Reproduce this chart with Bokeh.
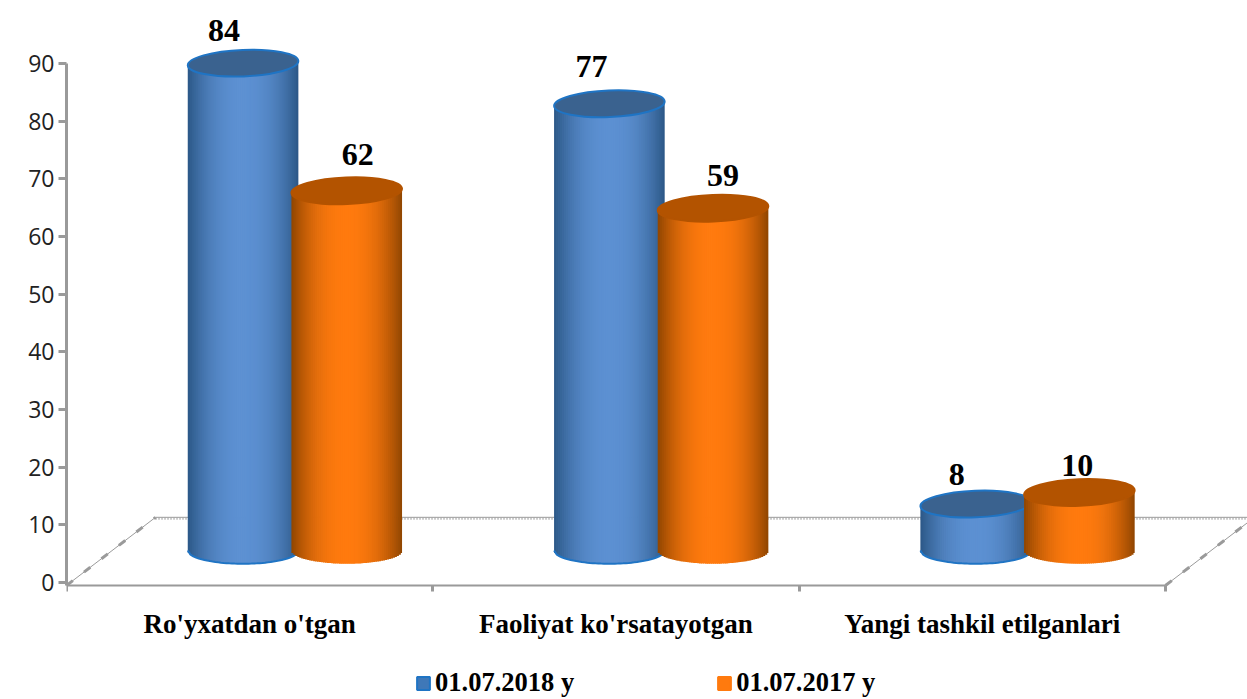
import math
from bokeh.plotting import figure
from bokeh.models import Range1d, LinearAxis, FixedTicker, Legend, LegendItem
from bokeh.core.properties import value
from bokeh.embed import file_html
from bokeh.resources import INLINE

categories = ["Ro'yxatdan o'tgan", "Faoliyat ko'rsatayotgan", "Yangi tashkil etilganlari"]
series_names = ["01.07.2018 y", "01.07.2017 y"]
values_2018 = [84, 77, 8]
values_2017 = [62, 59, 10]
y_ticks = [0, 10, 20, 30, 40, 50, 60, 70, 80, 90]

# styling of the pseudo-3D look
AXIS_Y = -0.52    # the x axis lies just under zero
FLOOR = 5.55      # y lift of the cylinders' base centre above axis zero
PERSPECTIVE = 1.006  # cylinders stand slightly nearer than the y axis
BACK = 11.3       # y height of the floor's back edge
DEPTH = 0.243     # x shift of the floor's back edge
BAR_W = 0.302
ELL_H = 4.6
OFFS = [0.482, 0.765]
STRIPS = 56
GRAY = "#9a9a9a"
EDGE = ["#2b5786", "#8f4500"]
MID = ["#5c90d2", "#ff7a0e"]
CAP = ["#3a628f", "#b35300"]
RIM = ["#1f74c4", "#b35300"]
LABEL_DX = [[-19, -18, -19], [11, 10, -2]]
LABEL_DY = [[33, 37, 30], [36, 33, 27]]


def mix(a, b, t):
    ca = [int(a[i:i + 2], 16) for i in (1, 3, 5)]
    cb = [int(b[i:i + 2], 16) for i in (1, 3, 5)]
    return "#%02x%02x%02x" % tuple(round(x + (y - x) * t) for x, y in zip(ca, cb))


p = figure(width=1247, height=699, output_backend="svg", toolbar_location=None,
           x_range=Range1d(0, 3.224), y_range=Range1d(-20.29, 100.92),
           x_axis_location=None, y_axis_location=None,
           min_border_left=66, min_border_right=0, min_border_top=0, min_border_bottom=0,
           frame_width=1181, frame_height=699, background_fill_color="white")
p.xgrid.visible = False
p.ygrid.visible = False
p.outline_line_color = None

# axes
ya = LinearAxis(ticker=FixedTicker(ticks=y_ticks), bounds=(AXIS_Y, 90), axis_line_color=GRAY,
                axis_line_width=3, major_tick_line_color=GRAY, major_tick_line_width=3,
                major_tick_out=8, major_tick_in=0, minor_tick_line_color=None,
                major_label_text_font="Open Sans", major_label_text_font_size="23px",
                major_label_text_color="#222222", major_label_standoff=4)
p.add_layout(ya, "left")
xa = LinearAxis(ticker=FixedTicker(ticks=[0, 1, 2, 3]), bounds=(0, 3), fixed_location=AXIS_Y,
                axis_line_color=GRAY, axis_line_width=2, major_tick_line_color=GRAY,
                major_tick_line_width=3, major_tick_out=6, major_tick_in=0,
                minor_tick_line_color=None,
                major_label_overrides={0: "", 1: "", 2: "", 3: ""}, major_label_standoff=0)
p.add_layout(xa, "below")
xb = LinearAxis(ticker=FixedTicker(ticks=[0.5, 1.5, 2.5]), fixed_location=AXIS_Y,
                major_label_overrides={i + 0.5: c for i, c in enumerate(categories)},
                axis_line_color=None, major_tick_line_color=None, minor_tick_line_color=None,
                major_label_text_font="Liberation Serif", major_label_text_font_style="bold",
                major_label_text_font_size="27px", major_label_text_color="#000000",
                major_label_standoff=18)
p.add_layout(xb, "below")

# floor
for xs, ys in (([0, DEPTH], [AXIS_Y, BACK]), ([3, 3 + DEPTH], [AXIS_Y, BACK])):
    p.line(xs, ys, line_color=GRAY, line_width=1)
    p.line(xs, ys, line_color=GRAY, line_width=3, line_dash="8 14")
p.line([DEPTH, 3 + DEPTH], [BACK, BACK], line_color=GRAY, line_width=1)
p.line([DEPTH, 3 + DEPTH], [BACK - 0.25, BACK - 0.25], line_color=GRAY, line_width=2, line_dash="1 2")

# cylinders
for s, vals in enumerate((values_2018, values_2017)):
    for c, v in enumerate(vals):
        cx = c + OFFS[s]
        head = v * PERSPECTIVE + FLOOR
        left, right, top, bottom, colors = [], [], [], [], []
        step = BAR_W / STRIPS
        for i in range(STRIPS):
            xl = cx - BAR_W / 2 + i * step
            t = (i + 0.5) / STRIPS * 2 - 1
            left.append(xl)
            right.append(xl + step * 1.4 if i < STRIPS - 1 else xl + step)
            top.append(head)
            bottom.append(FLOOR - ELL_H / 2 * math.sqrt(max(0, 1 - t * t)))
            colors.append(mix(EDGE[s], MID[s], (1 - abs(t) ** 2.2)))
        p.quad(left=left, right=right, top=top, bottom=bottom, fill_color=colors, line_color=None)
        if s == 0:
            xs = [cx + BAR_W / 2 * (j / 40 * 2 - 1) for j in range(41)]
            ys = [FLOOR - ELL_H / 2 * math.sqrt(max(0, 1 - (j / 40 * 2 - 1) ** 2)) for j in range(41)]
            p.line(xs, ys, line_color=RIM[s], line_width=2)
        p.ellipse(x=[cx], y=[head], width=[BAR_W], height=[ELL_H], angle=[0.04],
                  fill_color=CAP[s], line_color=RIM[s], line_width=2)
        p.text(x=[cx], y=[head], text=[str(v)], text_font=value("Liberation Serif"),
               text_font_style="bold", text_font_size="32px", text_color="#000000",
               text_align="center", text_baseline="middle",
               x_offset=LABEL_DX[s][c], y_offset=-LABEL_DY[s][c])

# legend
dummies = []
for s, name in enumerate(series_names):
    nan = float("nan")
    r = p.quad(left=[nan], right=[nan], top=[nan], bottom=[nan],
               fill_color="#3f78b8" if s == 0 else MID[s],
               line_color=RIM[0] if s == 0 else MID[s], line_width=2)
    dummies.append(LegendItem(label=name, renderers=[r]))
legend = Legend(items=dummies, orientation="horizontal", location=(349, 1), spacing=142,
                border_line_color=None, background_fill_alpha=0, label_text_font="Liberation Serif",
                label_text_font_style="bold", label_text_font_size="26.5px", label_text_color="#000000",
                glyph_width=16, glyph_height=16, label_standoff=4, padding=0, margin=0)
p.add_layout(legend, "center")

open("out.html", "w").write(file_html(p, INLINE))
